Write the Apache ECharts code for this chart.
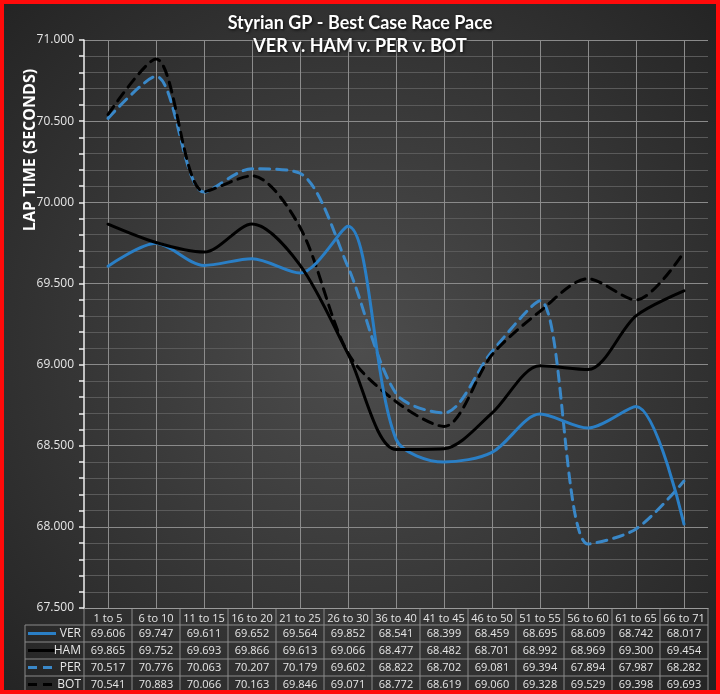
<!DOCTYPE html>
<html><head><meta charset="utf-8">
<script src="https://cdn.jsdelivr.net/npm/echarts@6/dist/echarts.min.js"></script>
<style>html,body{margin:0;padding:0;background:#2a2a2a}#c{width:720px;height:694px}</style>
</head><body><div id="c"></div>
<script>
const categories = ['1 to 5','6 to 10','11 to 15','16 to 20','21 to 25','26 to 30','36 to 40','41 to 45','46 to 50','51 to 55','56 to 60','61 to 65','66 to 71'];
const verValues = [69.606,69.747,69.611,69.652,69.564,69.852,68.541,68.399,68.459,68.695,68.609,68.742,68.017];
const hamValues = [69.865,69.752,69.693,69.866,69.613,69.066,68.477,68.482,68.701,68.992,68.969,69.300,69.454];
const perValues = [70.517,70.776,70.063,70.207,70.179,69.602,68.822,68.702,69.081,69.394,67.894,67.987,68.282];
const botValues = [70.541,70.883,70.066,70.163,69.846,69.071,68.772,68.619,69.060,69.328,69.529,69.398,69.693];
const seriesNames = ['VER','HAM','PER','BOT'];
const yMin = 67.5, yMax = 71.0, yStep = 0.5;

const allValues = [verValues, hamValues, perValues, botValues];
const colors = ['#2a7fc6','#000000','#3a88c8','#000000'];
const dashes = ['solid','solid',[10,7],[10,7]];

const L = 84, R = 708, T = 40, B = 608;
const colW = (R - L) / categories.length;
const rowH = 17;
const keyLeft = 25;

const graphics = [];
graphics.push({type:'rect', shape:{x:2,y:2,width:716,height:690}, style:{fill:'none', stroke:'#ff0a0a', lineWidth:4}, z:100});
graphics.push({type:'text', x:30, y:150, rotation:Math.PI/2, style:{text:'LAP TIME (SECONDS)', fill:'#ffffff', font:'bold 16px "Open Sans"', align:'center', verticalAlign:'middle'}});
const lineStyle = {stroke:'#8a8a8a', lineWidth:1};
for (let r = 0; r <= allValues.length; r++) {
  const y = B + rowH * (r + 1);
  graphics.push({type:'line', shape:{x1:keyLeft, y1:y, x2:R, y2:y}, style:lineStyle});
}
graphics.push({type:'line', shape:{x1:keyLeft, y1:B+rowH, x2:keyLeft, y2:B+rowH*5}, style:lineStyle});
for (let c = 0; c <= categories.length; c++) {
  const x = L + colW * c;
  graphics.push({type:'line', shape:{x1:x, y1:B, x2:x, y2:B+rowH*5}, style:lineStyle});
}
allValues.forEach((vals, r) => {
  const cy = B + rowH * (r + 1) + rowH / 2;
  graphics.push({type:'line', shape:{x1:28, y1:cy, x2:56, y2:cy}, style:{stroke:colors[r], lineWidth:3, lineDash: dashes[r]==='solid'?null:[9,6]}});
  graphics.push({type:'text', x:81, y:cy, style:{text:seriesNames[r], fill:'#e6e6e6', font:'12px "Open Sans"', align:'right', verticalAlign:'middle'}});
  vals.forEach((v, c) => {
    graphics.push({type:'text', x:L + colW * c + colW / 2, y:cy, style:{text:v.toFixed(3), fill:'#e6e6e6', font:'11px "Open Sans"', align:'center', verticalAlign:'middle'}});
  });
});

const chart = echarts.init(document.getElementById('c'));
chart.setOption({
  backgroundColor: {type:'radial', x:0.5, y:0.5, r:0.75, colorStops:[{offset:0,color:'#4d4d4d'},{offset:1,color:'#222222'}]},
  animation: false,
  title: {
    text: 'Styrian GP - Best Case Race Pace\nVER v. HAM v. PER v. BOT',
    left: 'center', top: 7,
    textStyle: {color:'#ffffff', fontSize:18, fontWeight:'bold', fontFamily:'Lato', lineHeight:23, textShadowColor:'rgba(0,0,0,0.8)', textShadowBlur:3, textShadowOffsetX:1, textShadowOffsetY:1}
  },
  grid: {left:L, right:720-R, top:T, bottom:694-B},
  xAxis: {
    type:'category', data:categories, boundaryGap:true,
    axisLine:{show:true, lineStyle:{color:'#9a9a9a'}},
    axisTick:{show:false},
    axisLabel:{color:'#e6e6e6', fontSize:11, fontFamily:'Open Sans', margin:5, interval:0},
    splitLine:{show:true, alignWithLabel:true, lineStyle:{color:'#8c8c8c', width:1}}
  },
  yAxis: {
    type:'value', min:yMin, max:yMax, interval:yStep,
    axisLine:{show:true, lineStyle:{color:'#f0f0f0', width:1.5}},
    axisTick:{show:true, length:5, lineStyle:{color:'#f0f0f0', width:1.5}},
    minorTick:{show:true, splitNumber:5, length:5, lineStyle:{color:'#f0f0f0', width:1.5}},
    axisLabel:{color:'#e6e6e6', fontSize:12, fontFamily:'Open Sans', margin:10, formatter: v => v.toFixed(3)},
    splitLine:{show:true, lineStyle:{color:'#8a8a8a', width:1}},
    minorSplitLine:{show:true, lineStyle:{color:'#5a5a5a', width:1}}
  },
  series: allValues.map((vals, i) => ({
    name: seriesNames[i], type:'line', data: vals, smooth:0.3, showSymbol:false,
    lineStyle:{color:colors[i], width:3, type:dashes[i], cap:'round'},
    z: i < 2 ? 3 : 2
  })),
  graphic: graphics
});
</script></body></html>
